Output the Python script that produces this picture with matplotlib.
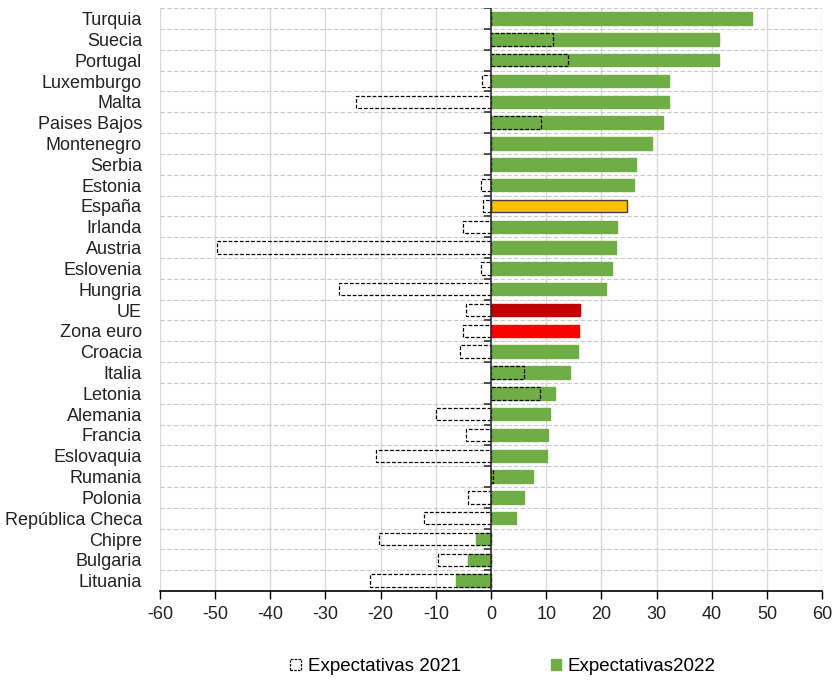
import matplotlib
matplotlib.use("Agg")
import matplotlib.pyplot as plt
from matplotlib.patches import Patch
import numpy as np

plt.rcParams['font.family'] = ['Liberation Sans', 'DejaVu Sans']

categories = ["Turquia", "Suecia", "Portugal", "Luxemburgo", "Malta", "Paises Bajos",
              "Montenegro", "Serbia", "Estonia", "España", "Irlanda", "Austria",
              "Eslovenia", "Hungria", "UE", "Zona euro", "Croacia", "Italia", "Letonia",
              "Alemania", "Francia", "Eslovaquia", "Rumania", "Polonia",
              "República Checa", "Chipre", "Bulgaria", "Lituania"]
exp2022 = [47.2, 41.3, 41.3, 32.2, 32.2, 31.1, 29.1, 26.2, 25.9, 24.6, 22.9, 22.7,
           22.0, 20.8, 16.1, 15.9, 15.7, 14.3, 11.5, 10.6, 10.3, 10.1, 7.6, 5.9,
           4.5, -2.7, -4.2, -6.4]
exp2021 = [0.0, 11.2, 14.0, -1.6, -24.5, 9.1, 0.0, 0.0, -1.9, -1.4, -5.1, -49.6,
           -1.8, -27.5, -4.5, -5.0, -5.6, 5.9, 8.9, -9.9, -4.5, -20.8, 0.3, -4.1,
           -12.1, -20.3, -9.6, -22.0]
xticks = [-60, -50, -40, -30, -20, -10, 0, 10, 20, 30, 40, 50, 60]

GREEN = "#70AD47"
special = {"España": ("#FFC000", "#404040"), "UE": ("#C00000", "#C00000"),
           "Zona euro": ("#FF0000", "#FF0000")}

n = len(categories)
y = np.arange(n)[::-1]
colors = [special.get(c, (GREEN, GREEN))[0] for c in categories]
edges = [special.get(c, (GREEN, GREEN))[1] for c in categories]

fig = plt.figure(figsize=(8.33, 6.81), dpi=100)
ax = fig.add_axes([0.192, 0.132, 0.795, 0.856])

ax.barh(y, exp2022, height=0.6, color=colors, edgecolor=edges, linewidth=1.0, zorder=3)
ax.barh(y, exp2021, height=0.6, facecolor="none", edgecolor="black",
        linestyle=(0, (3, 1.5)), linewidth=0.9, zorder=4)

ax.set_xlim(-60, 60)
ax.set_ylim(-0.5, n - 0.5)
ax.set_xticks(xticks)
ax.set_xticklabels([str(t) for t in xticks], fontsize=13, color="#222222")
ax.set_yticks(y)
ax.set_yticklabels(categories, fontsize=13, color="#222222")
ax.tick_params(axis="y", length=0, pad=13)
ax.tick_params(axis="x", length=6, width=1.0, color="black", pad=5, direction="out")

# grid lines
for xv in xticks:
    ax.axvline(xv, color="#D9D9D9", linewidth=1.0, zorder=1)
bounds = np.arange(n) + 0.5
for b in bounds:
    ax.axhline(b, color="#C8C8C8", linewidth=0.8, linestyle=(0, (4, 2)), zorder=1)

# zero axis line with tick marks at category boundaries
ax.axvline(0, color="#333333", linewidth=1.2, zorder=5)
ax.plot(np.zeros(len(bounds) + 1), np.append(bounds, -0.5), linestyle="none",
        marker=0, markersize=5, markeredgewidth=1.2, color="#333333", zorder=5)

for s in ["left", "right", "top"]:
    ax.spines[s].set_visible(False)
ax.spines["bottom"].set_color("black")
ax.spines["bottom"].set_linewidth(1.2)

handles = [Patch(facecolor="white", edgecolor="black", linestyle=(0, (2, 1)), linewidth=0.9),
           Patch(facecolor=GREEN, edgecolor=GREEN)]
fig.legend(handles, ["Expectativas 2021", "Expectativas2022"], loc="center",
           bbox_to_anchor=(0.604, 0.021), ncol=2, frameon=False, fontsize=13.5,
           columnspacing=4.8, handlelength=0.55, handleheight=0.55, handletextpad=0.37)

fig.savefig("out.png", dpi=100)
